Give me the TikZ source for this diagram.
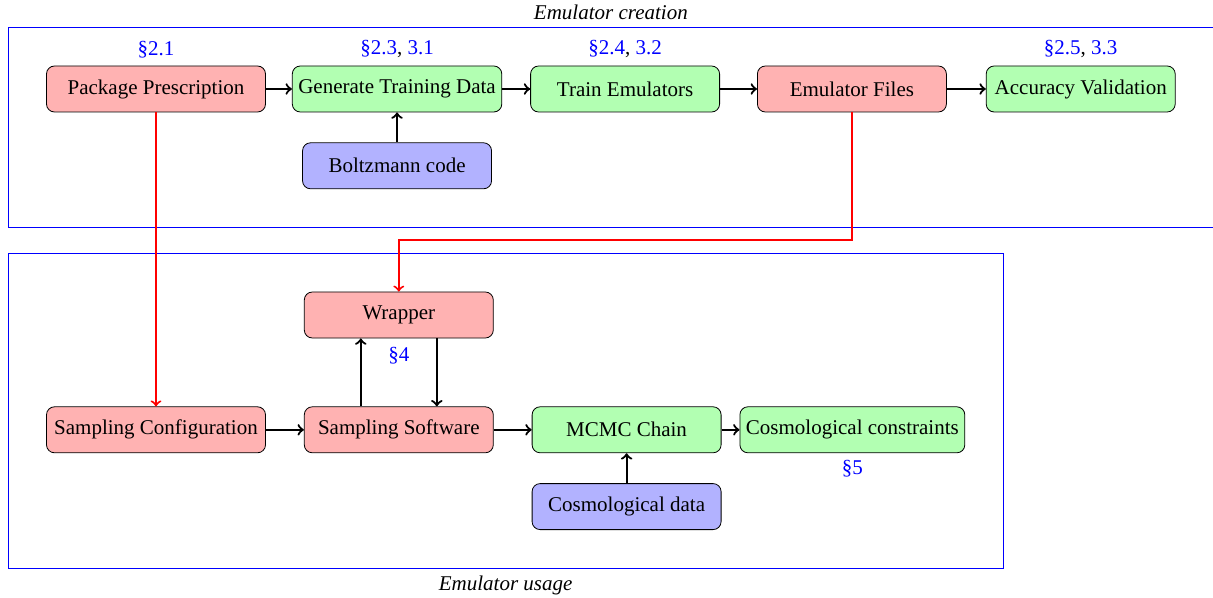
\documentclass[tikz,border=0pt]{standalone}
\usepackage{fontspec}
\setmainfont{Liberation Serif}
\usetikzlibrary{positioning,fit}

\begin{document}
\begin{tikzpicture}[
  font=\fontsize{10.5}{12.6}\selectfont,
  box/.style={rectangle, draw, rounded corners=4pt, minimum width=94.5pt, minimum height=23pt, align=center, inner sep=3pt},
  redbox/.style={box, fill=red!30},
  greenbox/.style={box, fill=green!30},
  bluebox/.style={box, fill=blue!30},
  sec/.style={text=blue, inner sep=1pt},
  frame/.style={draw=blue, line width=0.5pt, inner sep=19pt},
  arrow/.style={->, line width=1.1pt},
  redarrow/.style={->, line width=1pt, red},
]
  \useasboundingbox (0,0) rectangle (606.5pt,-299pt);

  % Creation row
  \node[redbox, minimum width=109.5pt] (pkg) at (78pt,-44.5pt) {Package Prescription};
  \node[greenbox, right=13pt of pkg] (gen) {Generate Training Data};
  \node[greenbox, right=14pt of gen] (train) {Train Emulators};
  \node[redbox, right=18.5pt of train] (files) {Emulator Files};
  \node[greenbox, right=19.5pt of files] (acc) {Accuracy Validation};
  \node[bluebox, below=15pt of gen] (boltz) {Boltzmann code};

  % Usage row
  \node[redbox, minimum width=109.5pt, below=147pt of pkg] (conf) {Sampling Configuration};
  \node[redbox, right=19pt of conf] (soft) {Sampling Software};
  \node[greenbox, right=19pt of soft] (mcmc) {MCMC Chain};
  \node[greenbox, right=9pt of mcmc] (cons) {Cosmological constraints};
  \node[bluebox, below=15pt of mcmc] (cdata) {Cosmological data};
  \node[redbox, above=34pt of soft] (wrap) {Wrapper};

  % Section references
  \node[sec, above=2.5pt of pkg] (secpkg) {\S2.1};
  \node[sec, above=2.5pt of gen] (secgen) {\textcolor{blue}{\S2.3}\textcolor{black}{,} 3.1};
  \node[sec, above=2.5pt of train] (sectrain) {\textcolor{blue}{\S2.4}\textcolor{black}{,} 3.2};
  \node[sec, above=2.5pt of acc] (secacc) {\textcolor{blue}{\S2.5}\textcolor{black}{,} 3.3};
  \node[sec, below=3pt of wrap] (secwrap) {\S4};
  \node[sec, below=2.5pt of cons] (seccons) {\S5};

  % Frames
  \node[frame, fit=(pkg)(acc)(boltz)] (creation) {};
  \node[frame, fit=(wrap)(conf)(cons)(cdata)] (usage) {};
  \node[above=0pt of creation] (creationlabel) {\textit{Emulator creation}};
  \node[below=0pt of usage] (usagelabel) {\textit{Emulator usage}};

  % Arrows
  \draw[arrow] (pkg) -- (gen);
  \draw[arrow] (gen) -- (train);
  \draw[arrow] (train) -- (files);
  \draw[arrow] (files) -- (acc);
  \draw[arrow] (boltz) -- (gen);
  \draw[arrow] (conf) -- (soft);
  \draw[arrow] (soft) -- (mcmc);
  \draw[arrow] (mcmc) -- (cons);
  \draw[arrow] (cdata) -- (mcmc);
  \draw[arrow] ([xshift=-19pt]soft.north) -- ([xshift=-19pt]wrap.south);
  \draw[arrow] ([xshift=19pt]wrap.south) -- ([xshift=19pt]soft.north);

  % Emulator output feeds usage
  \draw[redarrow] (pkg) -- (conf);
  \draw[redarrow] (files.south) -- ++(0,-64pt) -| (wrap.north);
\end{tikzpicture}
\end{document}
